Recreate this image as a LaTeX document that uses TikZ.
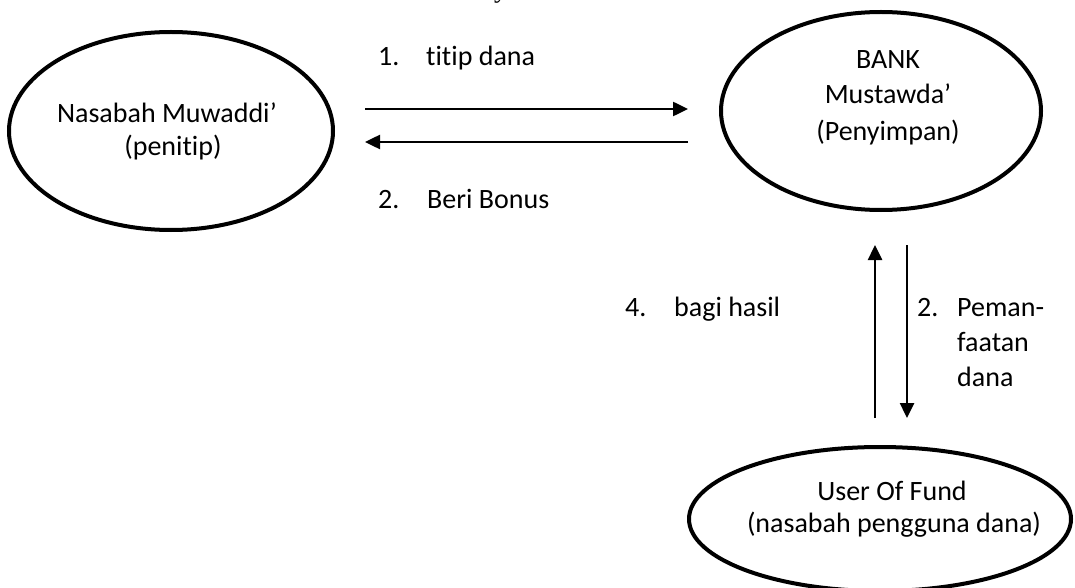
\documentclass[tikz,border=0pt]{standalone}
\usepackage{fontspec}
\setmainfont{Carlito}[RawFeature=-liga]
\newfontfamily\serifhead{Liberation Serif}
\usetikzlibrary{arrows.meta}

\tikzset{
  party/.style={line width=4pt},
  flow/.style={line width=2.5pt, -{Triangle[length=15pt,width=14pt]}},
  txt/.style={inner sep=0pt, font=\fontsize{28}{34}\selectfont},
}

\begin{document}
\begin{tikzpicture}[x=1pt, y=-1pt]
  \useasboundingbox (0,0) rectangle (1075,588);

  % descender of the heading line above the diagram
  \node[inner sep=0pt, anchor=base west, font=\serifhead\fontsize{27}{33}\selectfont] (head) at (494,-2) {y};

  % parties
  \draw[party] (171,131) ellipse [x radius=162, y radius=99];
  \draw[party] (881,111) ellipse [x radius=160, y radius=99];
  \draw[party] (880,519) ellipse [x radius=191, y radius=72];

  \node[txt, anchor=base] (nasabah1) at (167,123) {Nasabah Muwaddi’};
  \node[txt, anchor=base] (nasabah2) at (173,156) {(penitip)};

  \node[txt, anchor=base] (bank1) at (888,69) {BANK};
  \node[txt, anchor=base] (bank2) at (888,104) {Mustawda’};
  \node[txt, anchor=base] (bank3) at (888,141) {(Penyimpan)};

  \node[txt, anchor=base] (user1) at (892,500) {User Of Fund};
  \node[txt, anchor=base] (user2) at (894,532) {(nasabah pengguna dana)};

  % arrow end points
  \coordinate (t1s) at (365,109);
  \coordinate (t1e) at (688,109);
  \coordinate (t2s) at (688,142);
  \coordinate (t2e) at (365,142);
  \coordinate (v1s) at (875,418);
  \coordinate (v1e) at (875,245);
  \coordinate (v2s) at (907,245);
  \coordinate (v2e) at (907,418);

  \draw[flow] (t1s) -- (t1e);
  \draw[flow] (t2s) -- (t2e);
  \draw[flow] (v1s) -- (v1e);
  \draw[flow] (v2s) -- (v2e);

  % step labels
  \node[txt, anchor=base west] (n1) at (378,66) {1.};
  \node[txt, anchor=base west] (l1) at (426,66) {titip dana};
  \node[txt, anchor=base west] (n2) at (378,208) {2.};
  \node[txt, anchor=base west] (l2) at (427,208) {Beri Bonus};
  \node[txt, anchor=base west] (n4) at (625,316) {4.};
  \node[txt, anchor=base west] (l4) at (674,316) {bagi hasil};
  \node[txt, anchor=base west] (n3) at (917,316) {2.};
  \node[txt, anchor=base west] (l3a) at (957,316) {Peman-};
  \node[txt, anchor=base west] (l3b) at (957,351) {faatan};
  \node[txt, anchor=base west] (l3c) at (957,386) {dana};
\end{tikzpicture}
\end{document}
